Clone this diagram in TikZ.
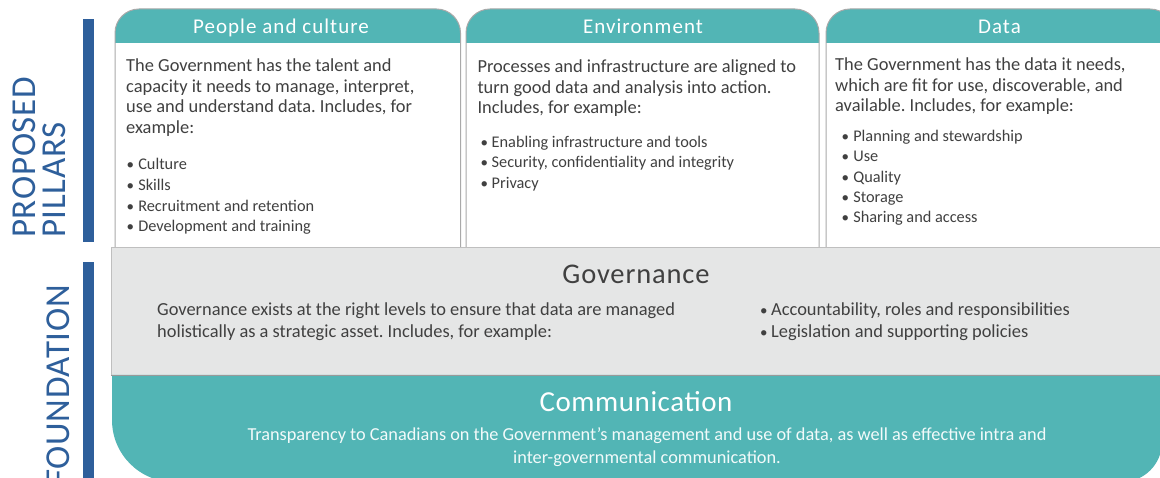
\documentclass[tikz,border=0pt]{standalone}
\usepackage{fontspec}
\setmainfont{Carlito}
\frenchspacing
\definecolor{tealc}{HTML}{52B5B5}
\definecolor{bluec}{HTML}{2E5F9B}
\definecolor{bandgray}{HTML}{E5E6E6}
\definecolor{txt}{HTML}{404040}
\definecolor{edge}{HTML}{A9A9A9}
\definecolor{commtxt}{HTML}{F2FAFA}
\tikzset{
  lbl/.style={inner sep=0pt, text=bluec, rotate=90, font=\fontsize{35}{35}\selectfont\addfontfeature{LetterSpace=2}},
  hdr/.style={inner sep=0pt, anchor=base, text=white, font=\fontsize{21}{25}\selectfont\addfontfeature{LetterSpace=5}},
  desc/.style={inner sep=0pt, anchor=base west, text=txt, font=\fontsize{18.4}{20.5}\selectfont},
  blist/.style={inner sep=0pt, anchor=base west, text=txt, font=\fontsize{16.3}{20.6}\selectfont},
  gtxt/.style={inner sep=0pt, anchor=base west, text=txt, font=\fontsize{18.4}{22}\selectfont},
  bigtitle/.style={inner sep=0pt, anchor=base, font=\fontsize{29}{33}\selectfont},
  boxedge/.style={draw=edge, line width=1pt},
}
\newcommand{\smallbul}{{\fontsize{15}{15}\selectfont\textbullet}}
\newcommand{\bul}[1]{\makebox[11.6pt][l]{\smallbul}#1}
\newcommand{\gbul}[1]{\makebox[11pt][l]{\smallbul}#1}
\begin{document}
\begin{tikzpicture}[x=1pt,y=-1pt]
\useasboundingbox (0,0) rectangle (1160,478);
\begin{scope}
\clip (0,0) rectangle (1160,478);
\fill[white] (0,0) rectangle (1160,478);
% blue bars
\fill[bluec] (83,19) rectangle (94,242);
\fill[bluec] (83,262) rectangle (94,480);
% side labels
\node[lbl, anchor=base west] (lp1) at (35,238) {PROPOSED};
\node[lbl, anchor=base west] (lp2) at (65,238) {PILLARS};
\node[lbl, anchor=base east] (lf) at (69,285) {FOUNDATION};
% pillar boxes
\foreach \xa/\xb/\nm in {115/460.5/b1, 466/819/b2, 826/1174/b3}{
  \fill[white] (\xa,30) rectangle (\xb,252);
  \begin{scope}
    \clip (\xa,0) rectangle (\xb,43);
    \fill[tealc, rounded corners=24pt] (\xa,9) rectangle (\xb,100);
  \end{scope}
  \draw[boxedge, rounded corners=24pt] (\xa,252) -- (\xa,9) -- (\xb,9) -- (\xb,252);
}
% headers
\node[hdr] (h1) at (281,34) {People and culture};
\node[hdr] (h2) at (643,34) {Environment};
\node[hdr] (h3) at (999.5,34) {Data};
% box 1
\node[desc] (d1) at (126,72) {\begin{tabular}[t]{@{}l@{}}The Government has the talent and\\capacity it needs to manage, interpret,\\use and understand data. Includes, for\\example:\end{tabular}};
\node[blist] (l1) at (126.5,170) {\begin{tabular}[t]{@{}l@{}}\bul{Culture}\\\bul{Skills}\\\bul{Recruitment and retention}\\\bul{Development and training}\end{tabular}};
% box 2
\node[desc] (d2) at (477.3,72.7) {\begin{tabular}[t]{@{}l@{}}Processes and infrastructure are aligned to\\turn good data and analysis into action.\\Includes, for example:\end{tabular}};
\node[blist] (l2) at (480.5,147.3) {\begin{tabular}[t]{@{}l@{}}\gbul{Enabling infrastructure and tools}\\\gbul{Security, confidentiality and integrity}\\\gbul{Privacy}\end{tabular}};
% box 3
\node[desc] (d3) at (835,71) {\begin{tabular}[t]{@{}l@{}}The Government has the data it needs,\\which are fit for use, discoverable, and\\available. Includes, for example:\end{tabular}};
\node[blist, font=\fontsize{16.3}{20.3}\selectfont] (l3) at (841.5,141.7) {\begin{tabular}[t]{@{}l@{}}\bul{Planning and stewardship}\\\bul{Use}\\\bul{Quality}\\\bul{Storage}\\\bul{Sharing and access}\end{tabular}};
% governance band
\filldraw[fill=bandgray, draw=black!25, line width=0.8pt] (111,247) rectangle (1175,375);
\node[bigtitle, text=txt, font=\fontsize{28.5}{33}\selectfont\addfontfeature{LetterSpace=3}] (gt) at (636,283.3) {Governance};
\node[gtxt] (gd) at (157,316) {\begin{tabular}[t]{@{}l@{}}Governance exists at the right levels to ensure that data are managed\\holistically as a strategic asset. Includes, for example:\end{tabular}};
\node[gtxt] (gl) at (760,316) {\begin{tabular}[t]{@{}l@{}}\gbul{Accountability, roles and responsibilities}\\\gbul{Legislation and supporting policies}\end{tabular}};
% communication band
\fill[tealc] (112,375) -- (112,420) arc[start angle=180, end angle=90, radius=62] -- (1122,482) arc[start angle=90, end angle=0, radius=40] -- (1162,375) -- cycle;
\draw[black!40, line width=0.8pt] (111,375) -- (1160,375);
\node[bigtitle, text=white, font=\fontsize{29}{33}\selectfont\addfontfeature{LetterSpace=2}] (ct) at (636,411.7) {Communication};
\node[inner sep=0pt, anchor=base, text=commtxt, font=\fontsize{18.3}{22.3}\selectfont] (cd) at (647,440.7) {\begin{tabular}[t]{@{}c@{}}Transparency to Canadians on the Government’s management and use of data, as well as effective intra and\\inter-governmental communication.\end{tabular}};
\end{scope}
\end{tikzpicture}
\end{document}
